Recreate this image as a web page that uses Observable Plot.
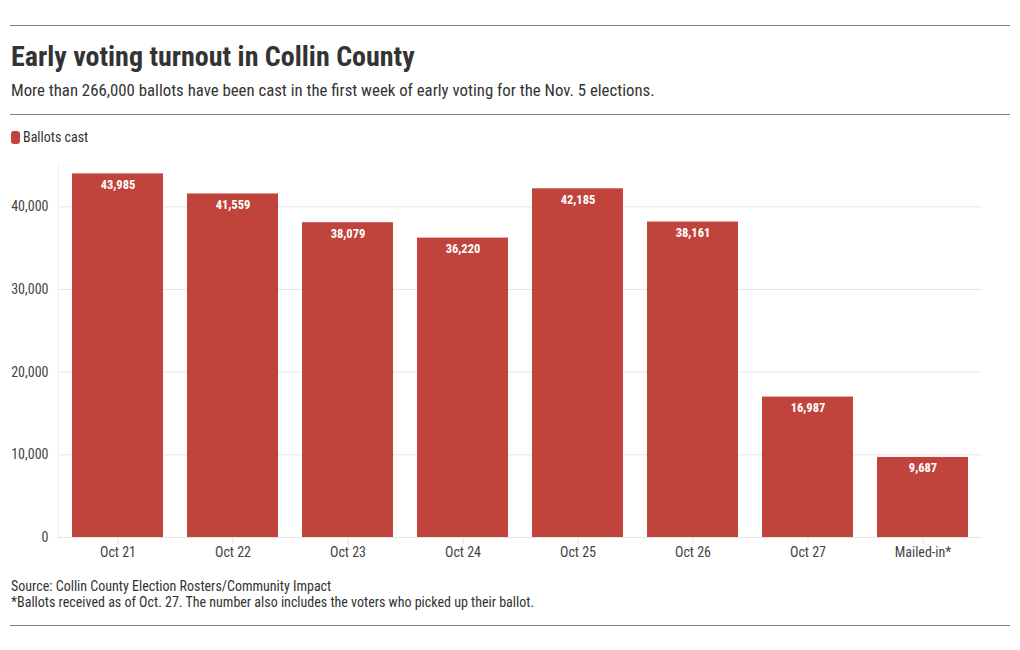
<!DOCTYPE html>
<html>
<head>
<meta charset="utf-8">
<script src="https://cdn.jsdelivr.net/npm/d3@7"></script>
<script src="https://cdn.jsdelivr.net/npm/@observablehq/plot@0.6"></script>
<style>
  body { margin: 0; background: #fff; font-family: "Roboto Condensed", "Liberation Sans Narrow", Roboto, sans-serif; color: #333; }
  .abs { position: absolute; white-space: nowrap; }
  .rule { position: absolute; left: 10px; width: 1000px; height: 0; border-top: 1px solid #808080; }
  #title { left: 11px; top: 41px; font-size: 28px; line-height: 32px; font-weight: bold; color: #333; }
  #subtitle { left: 11px; top: 80px; font-size: 16.8px; line-height: 20px; color: #333; }
  #legend { left: 11px; top: 128px; font-size: 14px; line-height: 18px; color: #333; }
  #legend .sw { display: inline-block; width: 9px; height: 13px; border-radius: 3px; background: #c0443c; vertical-align: -2px; margin-right: 3px; }
  #chart { position: absolute; left: 0; top: 150px; }
  #source { left: 11px; top: 578px; font-size: 14px; line-height: 16px; color: #333; }
</style>
</head>
<body>
<div class="rule" style="top:25px"></div>
<div class="abs" id="title">Early voting turnout in Collin County</div>
<div class="abs" id="subtitle">More than 266,000 ballots have been cast in the first week of early voting for the Nov. 5 elections.</div>
<div class="rule" style="top:114px"></div>
<div class="abs" id="legend"><span class="sw"></span>Ballots cast</div>
<div id="chart"></div>
<div class="abs" id="source">Source: Collin County Election Rosters/Community Impact<br>*Ballots received as of Oct. 27. The number also includes the voters who picked up their ballot.</div>
<div class="rule" style="top:625px"></div>
<script>
const categories = ["Oct 21", "Oct 22", "Oct 23", "Oct 24", "Oct 25", "Oct 26", "Oct 27", "Mailed-in*"];
const ballots = [43985, 41559, 38079, 36220, 42185, 38161, 16987, 9687];
const yTicks = [0, 10000, 20000, 30000, 40000];

const data = categories.map((c, i) => ({day: c, value: ballots[i]}));
const barColor = "#c0443c";

const chart = Plot.plot({
  width: 1020,
  height: 417,
  marginLeft: 58,
  marginRight: 38,
  marginTop: 15,
  marginBottom: 30,
  style: {fontFamily: '"Roboto Condensed", "Liberation Sans Narrow", Roboto, sans-serif', fontSize: "14px", color: "#444", background: "transparent"},
  x: {domain: categories, paddingInner: 0.21, paddingOuter: 0.105, label: null},
  y: {domain: [0, 45000], label: null},
  marks: [
    Plot.frame({anchor: "left", stroke: "#ececec"}),
    Plot.gridY(yTicks, {stroke: "#e6e6e6", strokeOpacity: 1}),
    Plot.axisY(yTicks, {tickSize: 0, tickPadding: 10, tickFormat: d3.format(","), fill: "#444", fontSize: 14, label: null}),
    Plot.axisX({tickSize: 7, tickPadding: 3, stroke: "#e0e0e0", fill: "#444", fontSize: 14, label: null}),
    Plot.barY(data, {x: "day", y: "value", fill: barColor}),
    Plot.text(data, {x: "day", y: "value", text: d => d3.format(",")(d.value), dy: 11, fill: "white", fontWeight: "bold", fontSize: 12.5})
  ]
});
document.getElementById("chart").appendChild(chart);
</script>
</body>
</html>
